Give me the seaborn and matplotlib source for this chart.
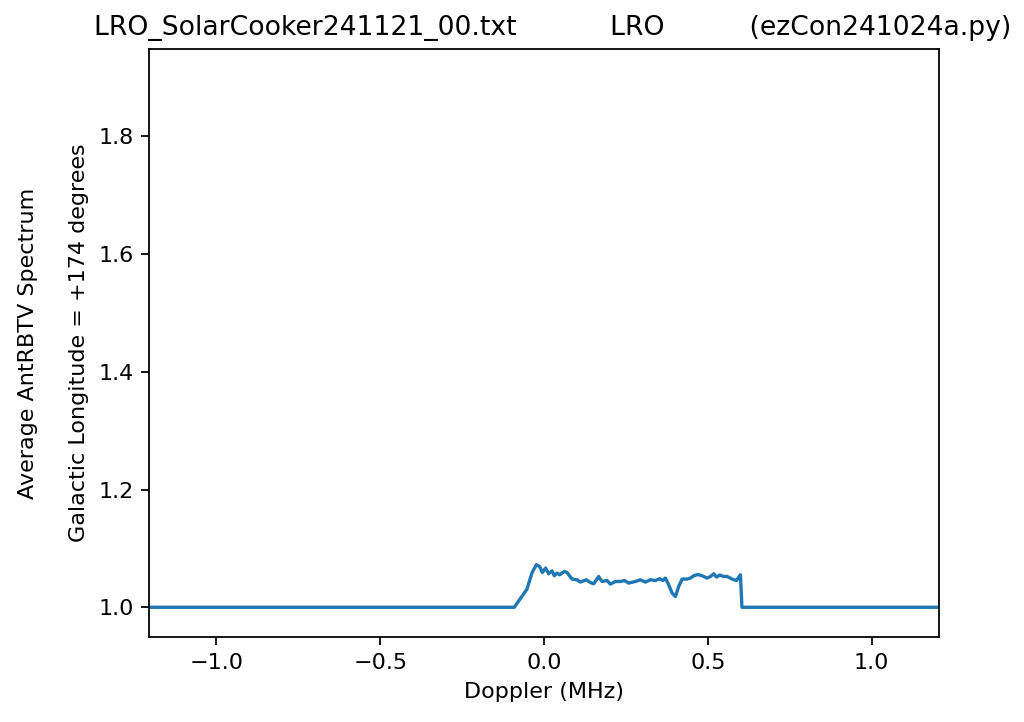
import matplotlib
matplotlib.use("Agg")
import matplotlib.pyplot as plt
import seaborn as sns
import pandas as pd

# averaged spectrum
doppler_mhz = [
    -1.25, -0.0907, -0.0519, -0.0367, -0.0235, -0.0134, -0.0052, 0.0049,
    0.0141, 0.0244, 0.0315, 0.0397, 0.0477, 0.0620, 0.0703, 0.0855,
    0.1008, 0.1109, 0.1292, 0.1415, 0.1515, 0.1668, 0.1772, 0.1925,
    0.2026, 0.2179, 0.2332, 0.2454, 0.2585, 0.2789, 0.2942, 0.3095,
    0.3248, 0.3401, 0.3532, 0.3636, 0.3706, 0.3807, 0.3911, 0.4012,
    0.4112, 0.4216, 0.4369, 0.4470, 0.4571, 0.4693, 0.4827, 0.4980,
    0.5081, 0.5182, 0.5264, 0.5365, 0.5487, 0.5591, 0.5744, 0.5875,
    0.5997, 0.6043, 1.25,
]
spectrum = [
    1.0, 1.0, 1.0309, 1.0586, 1.0722, 1.0693, 1.0591, 1.0666,
    1.0569, 1.0620, 1.0535, 1.0581, 1.0552, 1.0608, 1.0591, 1.0479,
    1.0467, 1.0428, 1.0467, 1.0421, 1.0399, 1.0523, 1.0438, 1.0455,
    1.0394, 1.0438, 1.0438, 1.0455, 1.0411, 1.0438, 1.0467, 1.0428,
    1.0467, 1.0455, 1.0484, 1.0455, 1.0496, 1.0382, 1.0241, 1.0183,
    1.0353, 1.0479, 1.0479, 1.0496, 1.0535, 1.0557, 1.0535, 1.0496,
    1.0523, 1.0569, 1.0513, 1.0547, 1.0523, 1.0523, 1.0479, 1.0455,
    1.0552, 1.0, 1.0,
]

title_text = "  LRO_SolarCooker241121_00.txt           LRO          (ezCon241024a.py)"
x_label = "Doppler (MHz)"
y_label = "Average AntRBTV Spectrum\n \nGalactic Longitude = +174 degrees"

df = pd.DataFrame({"Doppler": doppler_mhz, "Spectrum": spectrum})

fig = plt.figure(figsize=(6.4, 4.5125), dpi=160)
ax = fig.add_axes([0.1458, 0.1173, 0.7709, 0.8155])

sns.lineplot(data=df, x="Doppler", y="Spectrum", ax=ax, color="#1f77b4", linewidth=1.5)

ax.set_xlim(-1.205, 1.205)
ax.set_ylim(0.949, 1.949)
ax.set_xticks([-1.0, -0.5, 0.0, 0.5, 1.0])
ax.set_yticks([1.0, 1.2, 1.4, 1.6, 1.8])
ax.set_title(title_text)
ax.set_xlabel(x_label)
ax.set_ylabel(y_label, labelpad=4, linespacing=1.35)

fig.savefig("out.png", dpi=160)
